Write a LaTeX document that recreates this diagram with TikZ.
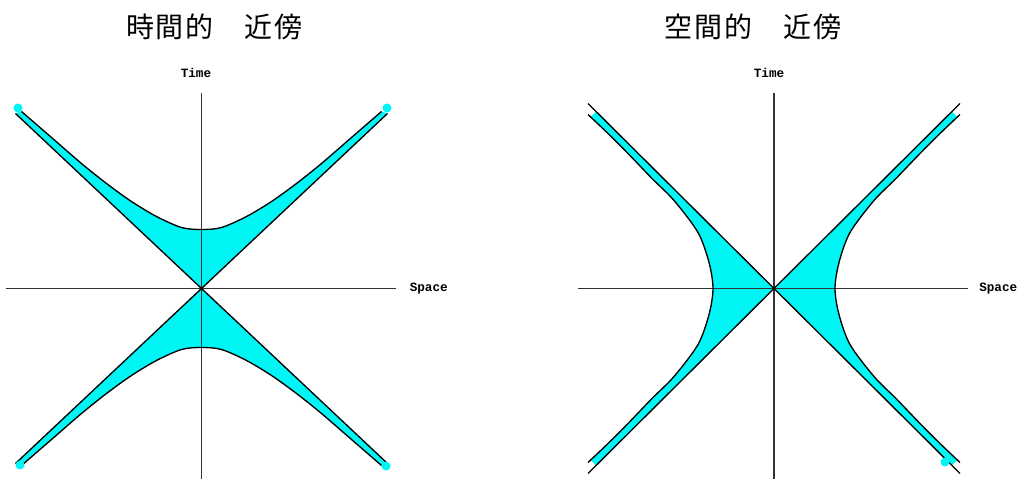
\documentclass[tikz,border=0pt]{standalone}
\usepackage{fontspec}
\setmonofont{Liberation Mono}
\newfontfamily\cjk[LetterSpace=6]{Noto Sans CJK JP}
\usepackage{tikz}
\usetikzlibrary{calc}
\definecolor{conefill}{RGB}{0,245,245}
\tikzset{
  axis/.style={line width=1.2pt, draw=black!80},
  band/.style={fill=conefill},
  rim/.style={line width=1pt, draw=black},
  blob/.style={fill=conefill},
  axlabel/.style={font=\ttfamily\bfseries\fontsize{9.5}{10}\selectfont, inner sep=0pt},
  heading/.style={font=\cjk\fontsize{21}{24}\selectfont, inner sep=0pt}
  }

\begin{document}
\begin{tikzpicture}[x=0.75pt,y=0.75pt]
  \useasboundingbox (0,0) rectangle (1018,479);
  \node[heading] (ttitle) at (214.5,452) {時間的　近傍};
  \node[heading] (stitle) at (753,452) {空間的　近傍};
  % time-like neighbourhood
  \begin{scope}[shift={(201.5,190.5)}]
    \foreach \s in {1,-1}{
      \begin{scope}[yscale=\s]
        \fill[band] (0,0) -- (186,175) -- plot[smooth] coordinates {(180,177) (150,151) (120,125) (95,105) (70,87) (45,72) (20,61) (0,59) (-20,61) (-45,72) (-70,87) (-95,105) (-120,125) (-150,151) (-180,177)} -- (-186,175) -- cycle;
      \end{scope}
    }
    \coordinate (tW) at (-195.5,0);
    \coordinate (tE) at (194.5,0);
    \coordinate (tN) at (0,195.5);
    \coordinate (tS) at (0,-190.5);
    \draw[axis] (tW) -- (tE);
    \draw[axis] (tN) -- (tS);
    \foreach \s in {1,-1}{
      \begin{scope}[yscale=\s]
        \draw[rim] plot[smooth] coordinates {(180,177) (150,151) (120,125) (95,105) (70,87) (45,72) (20,61) (0,59) (-20,61) (-45,72) (-70,87) (-95,105) (-120,125) (-150,151) (-180,177)};
        \draw[rim] (-186,175) -- (0,0) -- (186,175);
      \end{scope}
    }
    \fill[blob] (-183.5,180.5) circle (4.5);
    \fill[blob] (185.5,180.5) circle (4.5);
    \fill[blob] (-181.5,-176.5) circle (4.5);
    \fill[blob] (184.5,-177.5) circle (4.5);
    \node[axlabel] (ttime) at (-5.5,215.5) {Time};
    \node[axlabel, anchor=west] (tspace) at (208,0) {Space};
  \end{scope}
  % space-like neighbourhood
  \begin{scope}[shift={(774,190.5)}]
    \foreach \s in {1,-1}{
      \begin{scope}[xscale=\s]
        \clip (0,0) circle (251);
        \fill[band] (0,0) -- (186,185) -- plot[smooth] coordinates {(186,174) (166,155) (146,135) (122,110) (100,88) (76,56) (65,26) (61,0) (65,-26) (76,-56) (100,-88) (122,-110) (146,-135) (166,-155) (186,-174)} -- (186,-185) -- cycle;
      \end{scope}
    }
    \coordinate (sW) at (-196,0);
    \coordinate (sE) at (194,0);
    \coordinate (sN) at (0,195.5);
    \coordinate (sS) at (0,-190.5);
    \draw[axis] (sW) -- (sE);
    \draw[axis] (sN) -- (sS);
    \foreach \s in {1,-1}{
      \begin{scope}[xscale=\s]
        \draw[rim] plot[smooth] coordinates {(186,174) (166,155) (146,135) (122,110) (100,88) (76,56) (65,26) (61,0) (65,-26) (76,-56) (100,-88) (122,-110) (146,-135) (166,-155) (186,-174)};
      \end{scope}
    }
    \draw[rim] (-186,185) -- (186,-185);
    \draw[rim] (-186,-185) -- (186,185);
    \fill[blob] (171,-173.5) circle (4.5);
    \node[axlabel] (stime) at (-5,215.5) {Time};
    \node[axlabel, anchor=west] (sspace) at (205,0) {Space};
  \end{scope}
\end{tikzpicture}
\end{document}
